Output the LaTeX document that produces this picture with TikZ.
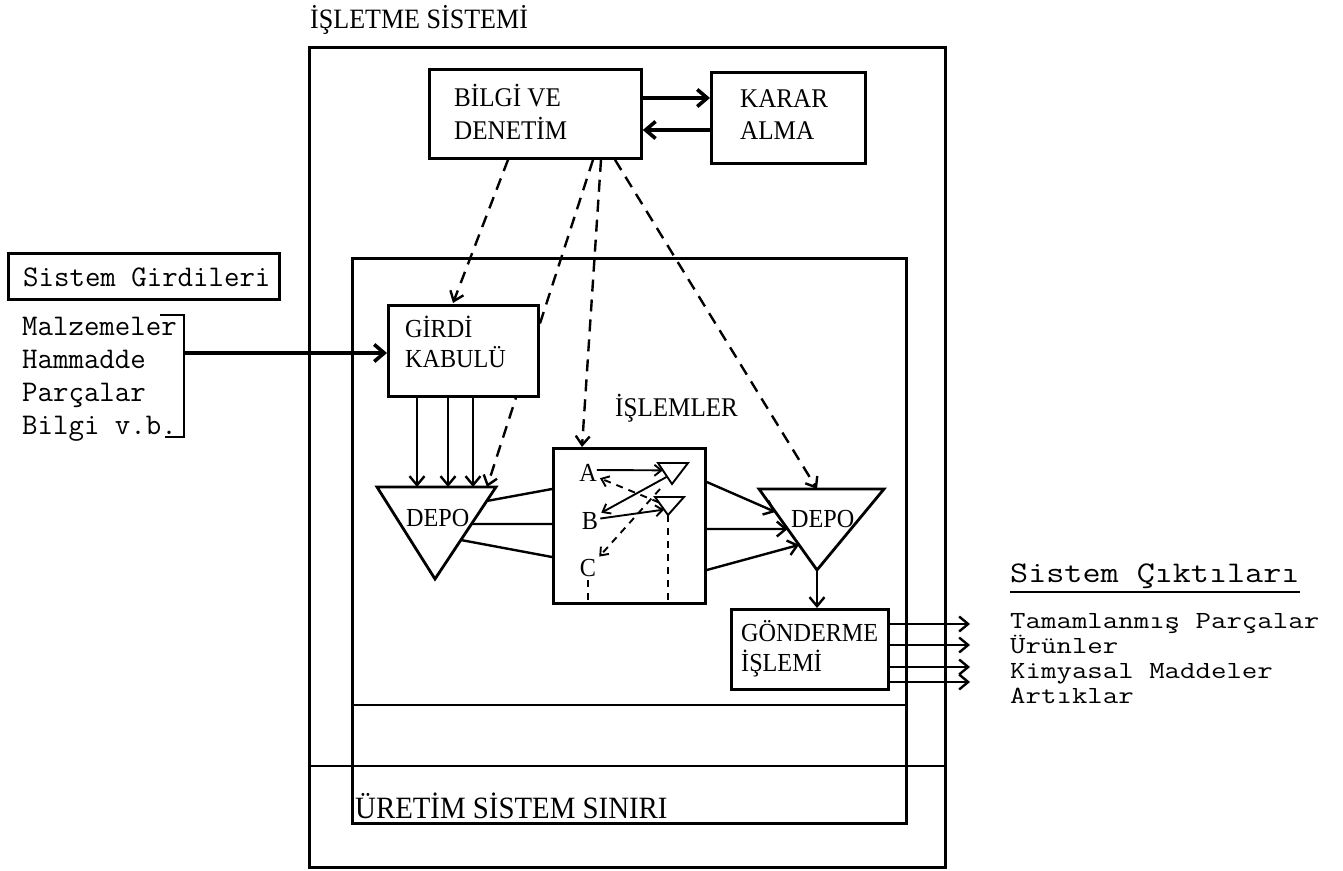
\documentclass[tikz,border=0pt]{standalone}
\usepackage{fontspec}
\setmainfont{Liberation Serif}
\newfontfamily\labfont{Liberation Serif}[FakeStretch=0.93]
\usetikzlibrary{arrows.meta,calc}
\newcommand{\squash}[1]{\scalebox{1}[0.82]{#1}}
\begin{document}
\begin{tikzpicture}[x=1pt,y=-1pt,
  box/.style={draw,line width=2.8pt,fill=white,inner sep=0pt,anchor=north west},
  lab/.style={inner sep=0pt,anchor=base west,font=\fontsize{26}{30}\labfont},
  biglab/.style={lab,font=\fontsize{27}{30}\labfont},
  tw/.style={inner sep=0pt,anchor=base west,font=\fontsize{30}{33}\ttfamily},
  boxline/.style={line width=2.8pt},
  plain/.style={line width=2.4pt},
  solidarrow/.style={line width=2.4pt,-{Straight Barb[length=9pt,width=15pt]}},
  thickarrow/.style={line width=3.6pt,-{Straight Barb[length=10pt,width=17pt]}},
  dasharrow/.style={line width=2.4pt,dash pattern=on 12pt off 8pt,-{Straight Barb[length=9pt,width=14pt]}},
  smallarrow/.style={line width=1.9pt,-{Straight Barb[length=7pt,width=11pt]}},
  smalldash/.style={line width=1.9pt,dash pattern=on 7pt off 6pt},
]
\path[fill=white,use as bounding box] (0,0) rectangle (1343,870);

% outer system box and production boundary
\node[box,minimum width=636pt,minimum height=820pt] (isl) at (308,46) {};
\node[lab,font=\fontsize{28}{30}\labfont] (title) at (310,28) {İŞLETME SİSTEMİ};
\node[box,minimum width=554pt,minimum height=565pt] (ure) at (351,257) {};
\draw[boxline] (ure.west |- 0,705) -- (ure.east |- 0,705);
\draw[boxline] (isl.west |- 0,766) -- (isl.east |- 0,766);
\node[lab,font=\fontsize{31}{34}\labfont] (uretim) at (355,818) {ÜRETİM SİSTEM SINIRI};

% top boxes
\node[box,minimum width=212pt,minimum height=89pt] (bilgi) at (428,68) {};
\node[biglab] (bilgi1) at (454,106) {BİLGİ VE};
\node[biglab] (bilgi2) at (454,139) {DENETİM};
\node[box,minimum width=154pt,minimum height=91pt] (karar) at (710,71) {};
\node[biglab] (karar1) at (740,107) {KARAR};
\node[biglab] (karar2) at (740,139) {ALMA};
\draw[thickarrow] (bilgi.east |- 0,98) -- (karar.west |- 0,98);
\draw[thickarrow] (karar.west |- 0,130) -- (bilgi.east |- 0,130);

% depots and process box geometry
\coordinate (dltl) at (377,487);
\coordinate (dltr) at (496,487);
\coordinate (dlap) at (435,579);
\coordinate (drtl) at (759,489);
\coordinate (drtr) at (884,489);
\coordinate (drap) at (817,570);
\node[box,minimum width=152pt,minimum height=155pt] (islem) at (552,447) {};

% dashed control lines
\draw[dasharrow] (508,0 |- bilgi.south) -- (453,303);
\draw[dasharrow] (593,0 |- bilgi.south) -- (487,0 |- dltl);
\draw[dasharrow] (601,0 |- bilgi.south) -- (582,0 |- islem.north);
\draw[dasharrow] (615,0 |- bilgi.south) -- (817,0 |- drtl);

% input acceptance
\node[box,minimum width=150pt,minimum height=91pt] (girdi) at (387,304) {};
\node[lab] (girdi1) at (405,337) {GİRDİ};
\node[lab] (girdi2) at (405,367) {KABULÜ};

% system inputs
\node[box,minimum width=271pt,minimum height=46pt] (sgbox) at (7,252) {};
\node[tw] (sgt) at (23,286) {Sistem Girdileri};
\node[tw] (in1) at (22,335) {Malzemeler};
\node[tw] (in2) at (22,368) {Hammadde};
\node[tw] (in3) at (22,401) {Parçalar};
\node[tw] (in4) at (22,434) {Bilgi v.b.};
\coordinate (brt) at (184,315);
\coordinate (brb) at (184,437);
\coordinate (brin) at (184,353);
\draw[boxline] (160,315) -- (brt) -- (brb) -- (165,437);
\draw[thickarrow] (brin) -- (girdi.west |- brin);

% flows into left depot
\draw[solidarrow] (417,0 |- girdi.south) -- (417,0 |- dltl);
\draw[solidarrow] (448,0 |- girdi.south) -- (448,0 |- dltl);
\draw[solidarrow] (473,0 |- girdi.south) -- (473,0 |- dltl);

% depots
\draw[boxline,line join=miter,fill=white] (dltl) -- (dltr) -- (dlap) -- cycle;
\node[lab] (depol) at (406,526) {DEPO};
\draw[boxline,line join=miter,fill=white] (drtl) -- (drtr) -- (drap) -- cycle;
\node[lab] (depor) at (791,527) {DEPO};

% links left depot -> process box
\draw[plain] ($(dltr)!0.152!(dlap)$) -- (islem.west |- 0,489);
\draw[plain] ($(dltr)!0.402!(dlap)$) -- (islem.west |- 0,524);
\draw[plain] ($(dltr)!0.576!(dlap)$) -- (islem.west |- 0,557);
% process box -> right depot
\draw[solidarrow] (islem.east |- 0,482) -- ($(drtl)!0.284!(drap)$);
\draw[solidarrow] (islem.east |- 0,529) -- ($(drtl)!0.494!(drap)$);
\draw[solidarrow] (islem.east |- 0,570) -- ($(drtl)!0.69!(drap)$);

\node[biglab] (islemler) at (615,416) {İŞLEMLER};

% inside process box
\node[lab,anchor=base] (A) at (588,481) {A};
\node[lab,anchor=base] (B) at (590,529) {B};
\node[lab,anchor=base] (C) at (588,576) {C};
\coordinate (ut1) at (658,463);
\coordinate (ut2) at (688,463);
\coordinate (ut3) at (672,484);
\coordinate (lt1) at (655,497);
\coordinate (lt2) at (684,497);
\coordinate (lt3) at (668,515);
\draw[line width=1.9pt,line join=miter] (ut1) -- (ut2) -- (ut3) -- cycle;
\draw[line width=1.9pt,line join=miter] (lt1) -- (lt2) -- (lt3) -- cycle;
\draw[smallarrow] (A.east |- 0,470) -- ($(ut1)!0.35!(ut3)$);
\draw[smallarrow] ($(ut1)!0.65!(ut3)$) -- ($(B.north east)+(3,1)$);
\draw[smallarrow] ($(B.east)+(2,-2)$) -- ($(lt1)!0.7!(lt3)$);
\draw[smalldash,-{Straight Barb[length=7pt,width=11pt]}] ($(lt1)!0.3!(lt3)$) -- ($(A.south east)+(3,-3)$);
\draw[smalldash,-{Straight Barb[length=7pt,width=11pt]}] ($(ut3)+(-12,5)$) -- ($(C.north east)+(3,-2)$);
\draw[smalldash] (lt3) -- (lt3 |- islem.south);
\draw[smalldash] ($(C.south)+(0,4)$) -- (C.south |- islem.south);

% shipping
\node[box,minimum width=157pt,minimum height=80pt] (gonder) at (730,608) {};
\node[lab] (gonder1) at (741,641) {GÖNDERME};
\node[lab] (gonder2) at (741,671) {İŞLEMİ};
\draw[solidarrow] (drap) -- (drap |- gonder.north);
\coordinate (o1) at (970,624);
\coordinate (o2) at (970,645);
\coordinate (o3) at (970,667);
\coordinate (o4) at (970,682);
\draw[solidarrow] (gonder.east |- o1) -- (o1);
\draw[solidarrow] (gonder.east |- o2) -- (o2);
\draw[solidarrow] (gonder.east |- o3) -- (o3);
\draw[solidarrow] (gonder.east |- o4) -- (o4);

% system outputs
\node[tw] (sct) at (1010,582) {\scalebox{1.17}[1]{Sistem Çıktıları}};
\draw[boxline] (1010,592) -- (sct.east |- 0,592);
\node[tw] (out1) at (1010,628) {\squash{Tamamlanmış Parçalar}};
\node[tw] (out2) at (1010,653) {\squash{Ürünler}};
\node[tw] (out3) at (1010,678) {\squash{Kimyasal Maddeler}};
\node[tw] (out4) at (1010,703) {\squash{Artıklar}};
\end{tikzpicture}
\end{document}
